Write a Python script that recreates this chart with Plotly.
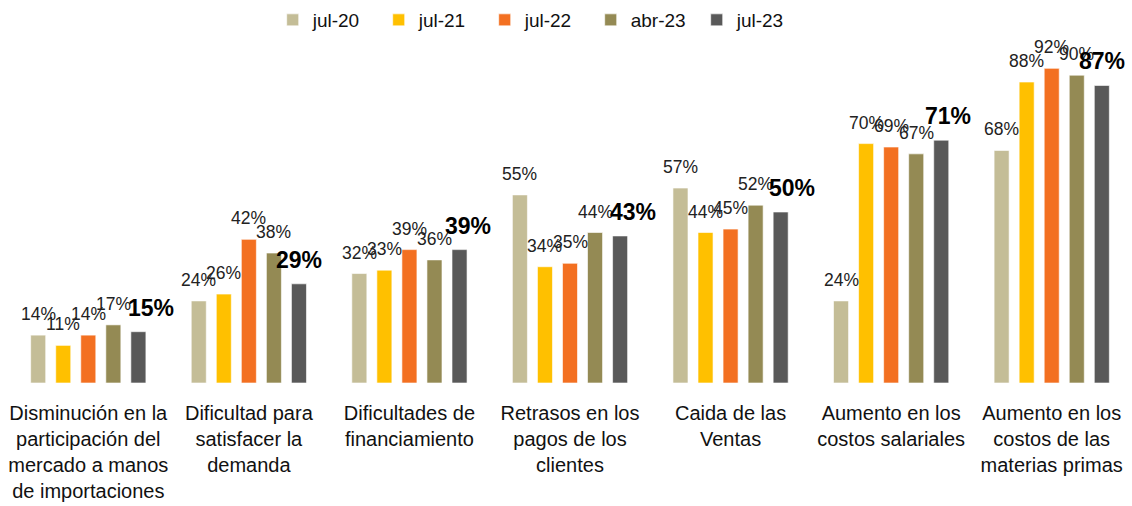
import plotly.graph_objects as go

categories = [
    "Disminución en la<br>participación del<br>mercado a manos<br>de importaciones",
    "Dificultad para<br>satisfacer la<br>demanda",
    "Dificultades de<br>financiamiento",
    "Retrasos en los<br>pagos de los<br>clientes",
    "Caida de las<br>Ventas",
    "Aumento en los<br>costos salariales",
    "Aumento en los<br>costos de las<br>materias primas",
]
series_names = ["jul-20", "jul-21", "jul-22", "abr-23", "jul-23"]
jul20 = [14, 24, 32, 55, 57, 24, 68]
jul21 = [11, 26, 33, 34, 44, 70, 88]
jul22 = [14, 42, 39, 35, 45, 69, 92]
abr23 = [17, 38, 36, 44, 52, 67, 90]
jul23 = [15, 29, 39, 43, 50, 71, 87]
values = [jul20, jul21, jul22, abr23, jul23]

# styling
colors = ["#C4BD97", "#FFC000", "#F37021", "#948A54", "#595959"]
last_label_dx = [13, 0, 8, 13, 11, 7, 0]  # horizontal nudge (px) of the bold jul-23 labels
FONT = "Liberation Sans, Arial, sans-serif"
BARGAP = 0.22

fig = go.Figure()
for name, vals, col in zip(series_names, values, colors):
    fig.add_trace(go.Bar(
        name=name, x=categories, y=vals,
        marker=dict(color=col, line=dict(color="rgba(255,255,255,0.6)", width=1)),
    ))

n = len(series_names)
slot = (1 - BARGAP) / n
annotations = []
for i, vals in enumerate(values):
    last = i == n - 1
    for k, v in enumerate(vals):
        xc = k - (1 - BARGAP) / 2 + slot * (i + 0.5)
        annotations.append(dict(
            x=xc, y=v, xref="x", yref="y", text=f"{v}%", showarrow=False,
            xanchor="center", yanchor="bottom", yshift=9,
            xshift=last_label_dx[k] if last else 0,
            font=dict(family=FONT, size=23 if last else 17.5,
                      color="#000000" if last else "#222222",
                      weight="bold" if last else "normal"),
        ))

fig.update_layout(
    width=1132, height=506,
    barmode="group", bargap=BARGAP, bargroupgap=0.4,
    plot_bgcolor="white", paper_bgcolor="white",
    margin=dict(l=8, r=0, t=41, b=123, autoexpand=False),
    font=dict(family=FONT, size=19, color="#111111"),
    legend=dict(orientation="h", x=0.475, xanchor="center", y=0.998, yanchor="top",
                yref="container", xref="container",
                font=dict(size=19), entrywidth=61, entrywidthmode="pixels",
                traceorder="normal"),
    annotations=annotations,
    showlegend=True,
)
fig.update_xaxes(showline=False, ticks="", tickfont=dict(size=20, color="#111111"),
                 ticklabelstandoff=16, automargin=False)
fig.update_yaxes(range=[0, 100], visible=False, showgrid=False, automargin=False)

fig.write_html("out.html", config={"displayModeBar": False},
               post_script="document.body.style.margin='0';document.body.style.overflow='hidden';")
